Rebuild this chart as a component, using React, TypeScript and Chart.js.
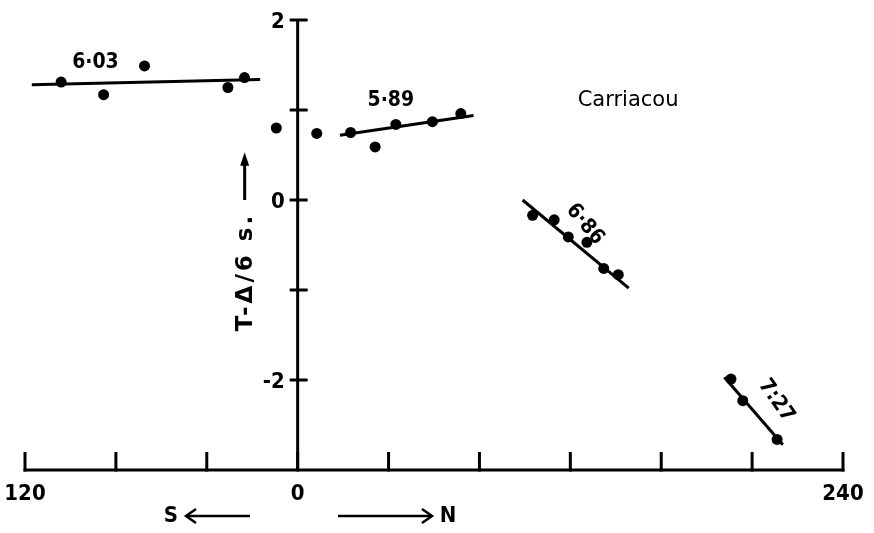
import { useEffect, useRef } from 'react';
import { Chart, registerables } from 'chart.js';

Chart.register(...registerables);

// Distance along the profile (km): south negative, north positive
const xTicks = [-120, -80, -40, 0, 40, 80, 120, 160, 200, 240];
const xTickLabels = ['120', '', '', '0', '', '', '', '', '', '240'];
// Reduced travel time T − Δ/6 (s)
const yTicks = [2, 1, 0, -1, -2];
const yTickLabels = ['2', '', '0', '', '-2'];

const X_MIN = -120;
const X_MAX = 240;
const Y_MIN = -3;
const Y_MAX = 2;

// Southern branch, apparent velocity 6·03 km/s
const south603X = [-104.1, -85.4, -67.4, -30.7, -23.4];
const south603Y = [1.31, 1.17, 1.49, 1.25, 1.36];
const fit603X = [-117, -16.5];
const fit603Y = [1.28, 1.34];

// Stations close to the shot point
const nearX = [-9.4, 8.4];
const nearY = [0.8, 0.74];

// Northern branch, 5·89 km/s
const north589X = [23.3, 34.1, 43.2, 59.3, 71.8];
const north589Y = [0.75, 0.59, 0.84, 0.87, 0.96];
const fit589X = [18.6, 77.4];
const fit589Y = [0.72, 0.94];

// Northern branch, 6·86 km/s
const north686X = [103.4, 112.9, 119.1, 127.3, 134.7, 141.1];
const north686Y = [-0.17, -0.22, -0.41, -0.47, -0.76, -0.83];
const fit686X = [99.0, 145.7];
const fit686Y = [0.0, -0.98];

// Northern branch, 7·27 km/s
const north727X = [190.7, 195.9, 211.0];
const north727Y = [-1.99, -2.23, -2.66];
const fit727X = [187.8, 213.5];
const fit727Y = [-1.97, -2.72];

// Velocity labels: text, anchor (data units), rotation (degrees)
const velLabels = ['6·03', '5·89', '6·86', '7:27'];
const velLabelX = [-89, 41, 126.4, 210.6];
const velLabelY = [1.53, 1.11, -0.27, -2.23];
const velLabelRot = [0, 0, 50, 55];

const siteName = 'Carriacou';
const siteX = 145.4;
const siteY = 1.1;

const yTitle = 'T-Δ/6 s.';

const NARROW = '"DejaVu Sans Condensed", "Liberation Sans Narrow", "DejaVu Sans", sans-serif';
const PLAIN = '"DejaVu Sans", "Liberation Sans", sans-serif';

const pts = (xs: number[], ys: number[]) => xs.map((x, i) => ({ x, y: ys[i] }));

const arrowHead = (ctx: CanvasRenderingContext2D, x: number, y: number, dir: number) => {
  ctx.beginPath();
  ctx.moveTo(x - dir * 10, y - 7);
  ctx.lineTo(x, y);
  ctx.lineTo(x - dir * 10, y + 7);
  ctx.stroke();
};

const axesPlugin = {
  id: 'profileAxes',
  beforeDatasetsDraw(chart: any) {
    const { ctx, scales } = chart;
    const sx = scales.x;
    const sy = scales.y;
    const base = sy.getPixelForValue(Y_MIN);
    const x0 = sx.getPixelForValue(0);
    ctx.save();
    ctx.strokeStyle = '#000';
    ctx.fillStyle = '#000';
    ctx.lineWidth = 3;
    ctx.lineCap = 'butt';

    // horizontal axis with upward ticks
    ctx.beginPath();
    ctx.moveTo(sx.getPixelForValue(X_MIN) - 1.5, base);
    ctx.lineTo(sx.getPixelForValue(X_MAX) + 1.5, base);
    ctx.stroke();
    ctx.font = `bold 22px ${NARROW}`;
    ctx.textAlign = 'center';
    ctx.textBaseline = 'middle';
    xTicks.forEach((v, i) => {
      const p = sx.getPixelForValue(v);
      ctx.beginPath();
      ctx.moveTo(p, base + 1.5);
      ctx.lineTo(p, base - 18);
      ctx.stroke();
      if (xTickLabels[i]) ctx.fillText(xTickLabels[i], p, base + 24);
    });

    // vertical axis through x = 0 with crossing ticks
    ctx.beginPath();
    ctx.moveTo(x0, sy.getPixelForValue(Y_MAX));
    ctx.lineTo(x0, base);
    ctx.stroke();
    ctx.textAlign = 'right';
    yTicks.forEach((v, i) => {
      const p = sy.getPixelForValue(v);
      ctx.beginPath();
      ctx.moveTo(x0 - 8, p);
      ctx.lineTo(x0 + 10, p);
      ctx.stroke();
      if (yTickLabels[i]) ctx.fillText(yTickLabels[i], x0 - 13, p + 2);
    });

    // vertical axis title with arrow
    const tx = x0 - 52;
    const ty = sy.getPixelForValue(-0.8);
    ctx.save();
    ctx.translate(tx, ty);
    ctx.rotate(-Math.PI / 2);
    ctx.font = `bold 23px ${PLAIN}`;
    (ctx as any).letterSpacing = '3px';
    ctx.textAlign = 'center';
    ctx.textBaseline = 'middle';
    ctx.fillText(yTitle, 0, 0);
    ctx.restore();
    const ax = tx - 1;
    ctx.lineWidth = 3;
    ctx.beginPath();
    ctx.moveTo(ax, sy.getPixelForValue(0));
    ctx.lineTo(ax, sy.getPixelForValue(0.45));
    ctx.stroke();
    ctx.beginPath();
    ctx.moveTo(ax, sy.getPixelForValue(0.53));
    ctx.lineTo(ax - 4.5, sy.getPixelForValue(0.38));
    ctx.lineTo(ax + 4.5, sy.getPixelForValue(0.38));
    ctx.closePath();
    ctx.fill();

    // direction arrows under the axis
    const ay = base + 46;
    ctx.lineWidth = 2.5;
    ctx.font = `bold 22px ${NARROW}`;
    ctx.textAlign = 'center';
    ctx.fillText('S', 171, ay);
    ctx.beginPath();
    ctx.moveTo(186, ay);
    ctx.lineTo(250, ay);
    ctx.stroke();
    arrowHead(ctx, 186, ay, -1);
    ctx.beginPath();
    ctx.moveTo(338, ay);
    ctx.lineTo(432, ay);
    ctx.stroke();
    arrowHead(ctx, 432, ay, 1);
    ctx.fillText('N', 448, ay);
    ctx.restore();
  },
  afterDatasetsDraw(chart: any) {
    const { ctx, scales } = chart;
    const sx = scales.x;
    const sy = scales.y;
    ctx.save();
    ctx.fillStyle = '#000';
    ctx.textAlign = 'center';
    ctx.textBaseline = 'middle';
    ctx.font = `bold 21px ${NARROW}`;
    velLabels.forEach((t, i) => {
      ctx.save();
      ctx.translate(sx.getPixelForValue(velLabelX[i]), sy.getPixelForValue(velLabelY[i]));
      ctx.rotate((velLabelRot[i] * Math.PI) / 180);
      ctx.fillText(t, 0, 0);
      ctx.restore();
    });
    ctx.font = `21px ${PLAIN}`;
    ctx.fillText(siteName, sx.getPixelForValue(siteX), sy.getPixelForValue(siteY));
    ctx.restore();
  },
};

const fitStyle = {
  showLine: true,
  borderColor: '#000',
  borderWidth: 3,
  pointRadius: 0,
  fill: false,
};

const dotStyle = {
  showLine: false,
  pointRadius: 5.5,
  pointBackgroundColor: '#000',
  pointBorderWidth: 0,
  backgroundColor: '#000',
};

export default function App() {
  const ref = useRef<HTMLCanvasElement | null>(null);

  useEffect(() => {
    if (!ref.current) return;
    const chart = new Chart(ref.current, {
      type: 'scatter',
      data: {
        datasets: [
          { label: 'fit 6·03', data: pts(fit603X, fit603Y), ...fitStyle },
          { label: 'fit 5·89', data: pts(fit589X, fit589Y), ...fitStyle },
          { label: 'fit 6·86', data: pts(fit686X, fit686Y), ...fitStyle },
          { label: 'fit 7·27', data: pts(fit727X, fit727Y), ...fitStyle },
          { label: '6·03', data: pts(south603X, south603Y), ...dotStyle },
          { label: 'near', data: pts(nearX, nearY), ...dotStyle },
          { label: '5·89', data: pts(north589X, north589Y), ...dotStyle },
          { label: '6·86', data: pts(north686X, north686Y), ...dotStyle },
          { label: '7·27', data: pts(north727X, north727Y), ...dotStyle },
        ] as any,
      },
      options: {
        animation: false,
        responsive: false,
        devicePixelRatio: 1,
        layout: { padding: { top: 20, left: 25, right: 31, bottom: 63 } },
        plugins: { legend: { display: false }, tooltip: { enabled: false } },
        elements: { line: { tension: 0 } },
        scales: {
          x: { type: 'linear', display: false, min: X_MIN, max: X_MAX },
          y: { type: 'linear', display: false, min: Y_MIN, max: Y_MAX },
        },
      },
      plugins: [axesPlugin],
    });
    return () => chart.destroy();
  }, []);

  return (
    <div style={{ position: 'absolute', left: 0, top: 0, width: 874, height: 533, background: '#fff' }}>
      <canvas ref={ref} width={874} height={533} style={{ display: 'block', width: 874, height: 533 }} />
    </div>
  );
}
